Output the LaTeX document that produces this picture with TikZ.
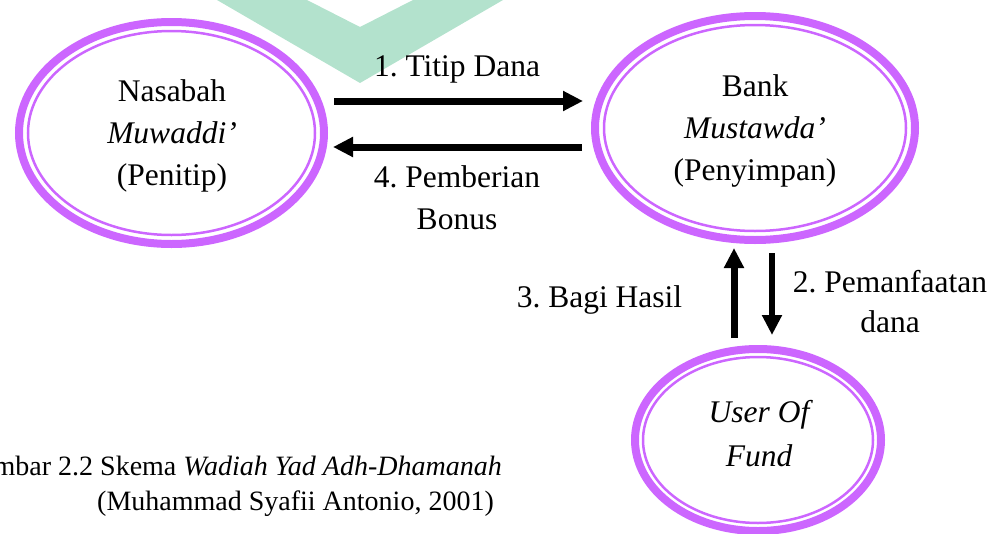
\documentclass[tikz,border=0pt]{standalone}
\usepackage{fontspec}
\setmainfont{Liberation Serif}
\usetikzlibrary{arrows.meta,shapes.geometric}
\definecolor{ringpurple}{RGB}{204,102,255}
\definecolor{markgreen}{RGB}{179,226,205}
\frenchspacing
\begin{document}
\begin{tikzpicture}[x=1pt,y=-1pt,
  outerring/.style={ellipse, draw=ringpurple, line width=8pt, inner sep=0pt, outer sep=0pt},
  innerring/.style={ellipse, draw=ringpurple, line width=2.5pt, inner sep=0pt, outer sep=0pt},
  lbl/.style={font=\fontsize{31.5}{42}\selectfont, align=center, inner sep=0pt},
  captxt/.style={font=\fontsize{28}{35}\selectfont, inner sep=0pt},
  bigarrow/.style={line width=7pt, -{Triangle[length=20pt,width=19pt]}},
]
\useasboundingbox (0,0) rectangle (999,533);
\clip (0,0) rectangle (999,533);
% watermark
\fill[markgreen] (217,0) -- (360,83) -- (503,0) -- (413,0) -- (360,27) -- (307,0) -- cycle;

% ellipses
\node[outerring, minimum width=305pt, minimum height=222pt] (nasabah) at (171.5,133) {};
\node[innerring, minimum width=287pt, minimum height=204pt] (nasabahin) at (nasabah.center) {};
\node[lbl] (nasabahtxt) at (172,135.5) {Nasabah\\\textit{Muwaddi’}\\(Penitip)};

\node[outerring, minimum width=320pt, minimum height=224pt] (bank) at (755,128) {};
\node[innerring, minimum width=302pt, minimum height=206pt] (bankin) at (bank.center) {};
\node[lbl] (banktxt) at (755,130.5) {Bank\\\textit{Mustawda’}\\(Penyimpan)};

\node[outerring, minimum width=246pt, minimum height=182pt] (user) at (758,440) {};
\node[innerring, minimum width=230pt, minimum height=166pt] (userin) at (user.center) {};
\node[lbl, font=\fontsize{31.5}{44}\selectfont\itshape] (usertxt) at (759,434) {User Of\\Fund};

% arrows
\coordinate (t1) at (334,101); \coordinate (h1) at (583,101);
\coordinate (t4) at (582,147); \coordinate (h4) at (333,147);
\coordinate (t3) at (734,338); \coordinate (h3) at (734,248);
\coordinate (t2) at (772,253); \coordinate (h2) at (772,335);
\draw[bigarrow] (t1) -- (h1);
\draw[bigarrow] (t4) -- (h4);
\draw[bigarrow] (t3) -- (h3);
\draw[bigarrow, line width=6pt] (t2) -- (h2);

% labels
\node[lbl, anchor=base] (l1) at (457,76) {1. Titip Dana};
\node[lbl] (l4) at (457,198) {4. Pemberian\\Bonus};
\node[lbl, anchor=base] (l3) at (599.5,307) {3. Bagi Hasil};
\node[lbl, font=\fontsize{31.5}{40}\selectfont] (l2) at (890,302) {2. Pemanfaatan\\dana};

% caption (its start is cut off by the picture's left edge, as in the reference)
\node[captxt, anchor=base east] (c1) at (502,475) {Gambar 2.2 Skema \textit{Wadiah Yad Adh-Dhamanah}};
\node[captxt, anchor=base west] (c2) at (97,510) {(Muhammad Syafii Antonio, 2001)};
\end{tikzpicture}
\end{document}
